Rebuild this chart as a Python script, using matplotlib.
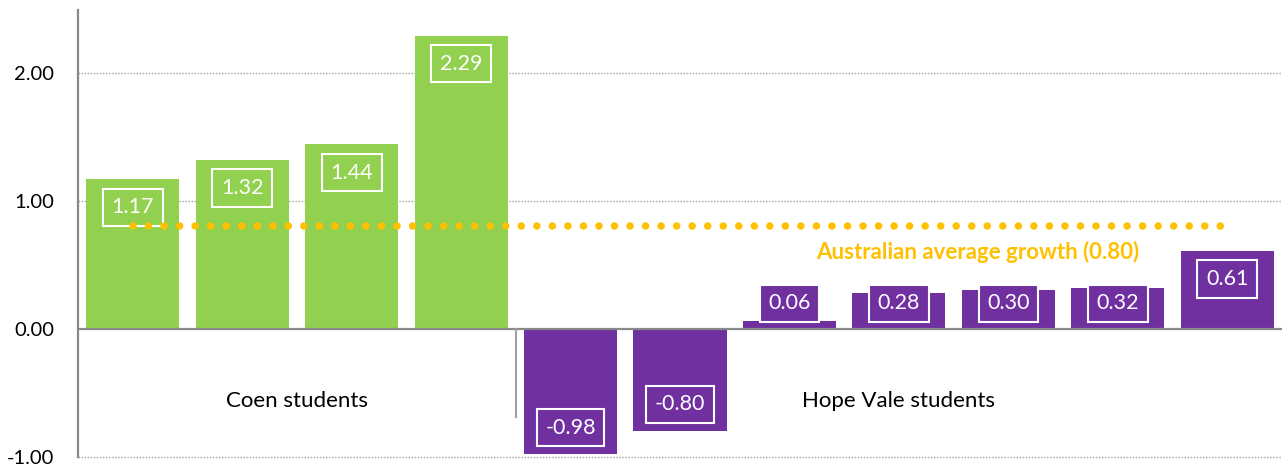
import matplotlib
matplotlib.use("Agg")
import matplotlib.pyplot as plt
import numpy as np

plt.rcParams['font.family'] = ['Lato', 'DejaVu Sans']

# ---- data ----
coen_values = [1.17, 1.32, 1.44, 2.29]
hopevale_values = [-0.98, -0.80, 0.06, 0.28, 0.30, 0.32, 0.61]
group_labels = ["Coen students", "Hope Vale students"]
avg_growth = 0.80
avg_label = "Australian average growth (0.80)"
yticks = [-1.0, 0.0, 1.0, 2.0]

GREEN = "#92D050"
PURPLE = "#7030A0"
GOLD = "#FFC000"
GRAY = "#898989"

values = coen_values + hopevale_values
colors = [GREEN] * len(coen_values) + [PURPLE] * len(hopevale_values)
x = np.arange(len(values))

fig = plt.figure(figsize=(12.82, 4.65), dpi=100)
ax = fig.add_axes([78 / 1282, 8 / 465, 1 - 78 / 1282, (457 - 10) / 465])

ax.set_xlim(-0.5, len(values) - 0.5)
ax.set_ylim(-1.0, 2.49)

# gridlines
for yv in [1.0, 2.0, -1.0]:
    ax.axhline(yv, color="#A0A0A0", lw=1.0, linestyle=(0, (1, 1.2)), zorder=0, clip_on=False)

ax.bar(x, values, width=0.85, color=colors, zorder=2)

# zero line
ax.axhline(0, color=GRAY, lw=1.6, zorder=3)

# separator between groups
ax.plot([len(coen_values) - 0.5] * 2, [0, -0.69], color="#A0A0A0", lw=1.5, zorder=3)

# average line
ax.plot([x[0], x[-1]], [avg_growth, avg_growth], color=GOLD, lw=5.4,
        linestyle=(0, (0.001, 2.07)), dash_capstyle="round", zorder=5)
ax.text(7.72, 0.60, avg_label, color=GOLD, fontsize=16, fontweight="bold",
        ha="center", va="center", zorder=6)

# value labels
for xi, v, c in zip(x, values, colors):
    if v >= 0:
        yl = max(v - 0.22, 0.20)
    else:
        yl = v + 0.21
    ax.text(xi, yl, f"{v:.2f}", color="white", fontsize=15.5, ha="center", va="center",
            zorder=4,
            bbox=dict(boxstyle="square,pad=0.4", facecolor=c, edgecolor="white", lw=1.5))

# group labels
n1 = len(coen_values)
ax.text((n1 - 1) / 2, -0.5625, group_labels[0], fontsize=16, ha="center", va="center", color="black")
ax.text(n1 + (len(hopevale_values) - 1) / 2, -0.5625, group_labels[1], fontsize=16,
        ha="center", va="center", color="black")

ax.set_yticks(yticks)
ax.set_yticklabels([f"{t:.2f}" for t in yticks], fontsize=14.5)
ax.set_xticks([])
ax.tick_params(axis="y", length=0, pad=17)
for s in ["top", "right", "bottom"]:
    ax.spines[s].set_visible(False)
ax.spines["left"].set_color(GRAY)
ax.spines["left"].set_linewidth(1.6)

fig.savefig("out.png", dpi=100)
